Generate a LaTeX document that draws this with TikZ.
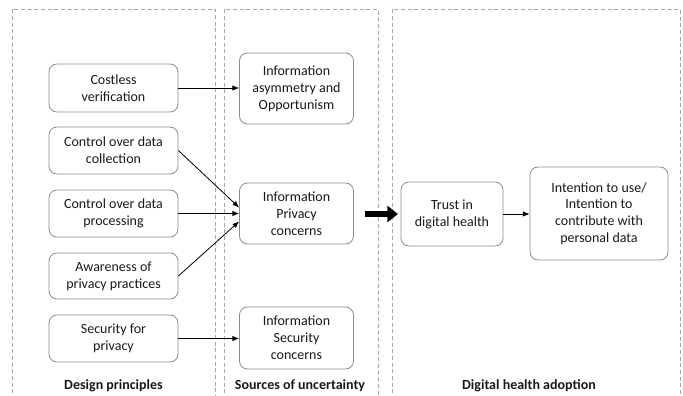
\documentclass[tikz,border=0pt]{standalone}
\usepackage{fontspec}
\setmainfont{Carlito}
\usetikzlibrary{arrows.meta}
\begin{document}
\begin{tikzpicture}[x=0.75pt,y=-0.75pt,
  panel/.style={draw=black!35, dashed, dash pattern=on 3pt off 2pt, line width=0.6pt},
  box/.style={draw=black!45, line width=0.6pt, rounded corners=6pt, align=center,
    inner sep=0pt, text=black!90, font=\fontsize{10.5}{12.6}\selectfont},
  lbox/.style={box, minimum width=96.75pt},
  mbox/.style={box, minimum width=85.5pt},
  link/.style={draw=black, line width=0.6pt, -{Latex[length=5pt,width=4pt]}},
  bigarrow/.style={draw=black, line width=4pt, -{Triangle[length=8pt,width=12pt]}},
  caption/.style={font=\fontsize{10.5}{12.6}\selectfont\bfseries, text=black!90}]
\useasboundingbox (0,0) rectangle (683,396);

% dashed panels, open at the bottom
\draw[panel] (12,400) |- (215,9) -- (215,400);
\draw[panel] (224,400) |- (378,9) -- (378,400);
\draw[panel] (392,400) |- (680,9) -- (680,400);

% design principles
\node[lbox, minimum height=36pt]   (cost)  at (113.5,88)  {Costless\\verification};
\node[lbox, minimum height=35.25pt] (coll) at (113.5,150.5) {Control over data\\collection};
\node[lbox, minimum height=35.25pt] (proc) at (113.5,213.5) {Control over data\\processing};
\node[lbox, minimum height=34.5pt] (aware) at (113.5,276) {Awareness of\\privacy practices};
\node[lbox, minimum height=35.25pt] (sec)  at (113.5,338.5) {Security for\\privacy};

% sources of uncertainty
\node[mbox, minimum height=53.25pt] (asym) at (296.5,88.5) {Information\\asymmetry and\\Opportunism};
\node[mbox, minimum height=45.75pt] (priv) at (296.5,213.5) {Information\\Privacy\\concerns};
\node[mbox, minimum height=46.5pt]  (secc) at (296.5,338) {Information\\Security\\concerns};

% digital health adoption
\node[box, minimum width=76.5pt, minimum height=48pt] (trust) at (452,214) {Trust in\\digital health};
\node[box, minimum width=103.5pt, minimum height=69.75pt] (intent) at (599,213.5)
  {Intention to use/\\Intention to\\contribute with\\personal data};

% connectors
\draw[link] (cost.east) -- (asym.west |- cost.east);
\draw[link] (coll.east) -- ([yshift=4.5pt]priv.west);
\draw[link] (proc.east) -- (priv.west |- proc.east);
\draw[link] (aware.east) -- ([yshift=-6pt]priv.west);
\draw[link] (sec.east) -- (secc.west |- sec.east);
\coordinate (bigstart) at (365,214);
\coordinate (bigend) at (398,214);
\draw[bigarrow] (bigstart) -- (bigend);
\draw[link] (trust.east) -- (intent.west |- trust.east);

% panel captions
\node[caption] (c1) at (113.5,386) {Design principles};
\node[caption] (c2) at (300,386) {Sources of uncertainty};
\node[caption] (c3) at (529,386) {Digital health adoption};
\end{tikzpicture}
\end{document}
